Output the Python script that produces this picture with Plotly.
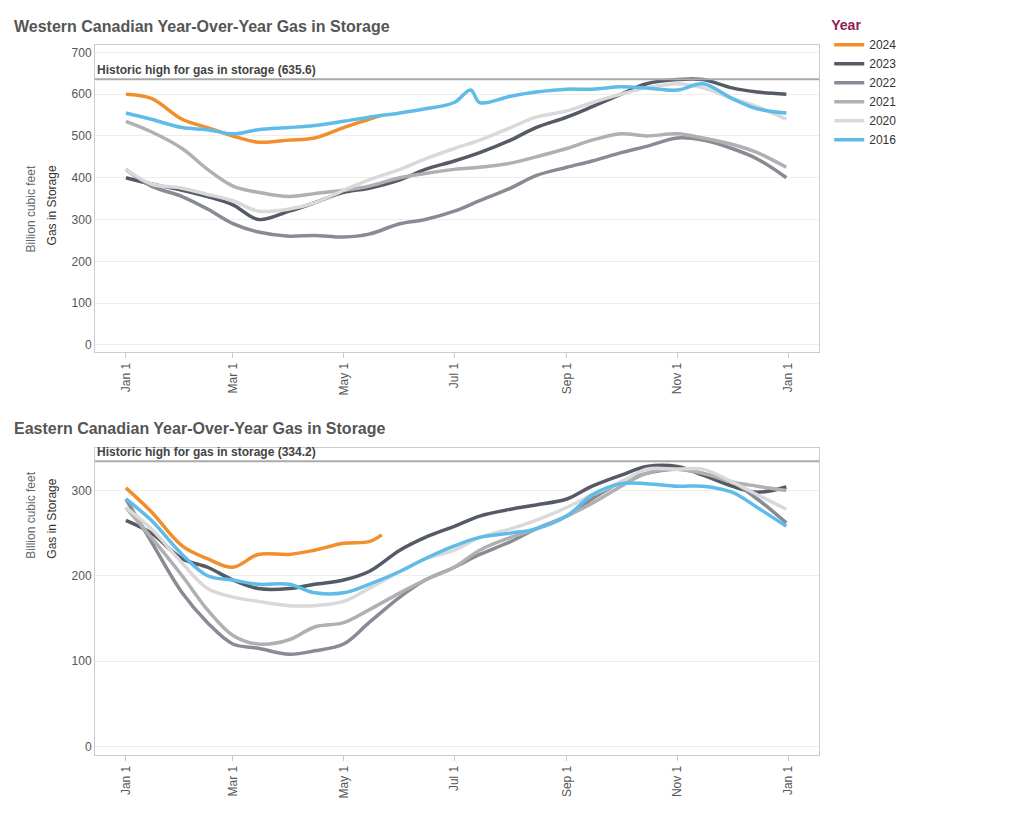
import plotly.graph_objects as go

dates_full = ["01-01","01-15","02-01","02-15","03-01","03-15","04-01","04-15","05-01","05-15","06-01","06-15",
              "07-01","07-15","08-01","08-15","09-01","09-15","10-01","10-15","11-01","11-15","12-01","12-15","12-31"]
years = ["2024","2023","2022","2021","2020","2016"]
colors = {"2024":"#f28e2b","2023":"#555b66","2022":"#878c94","2021":"#b0b0b0","2020":"#d9d9d9","2016":"#5fbce8"}

west_2024_dates = ["01-01","01-15","02-01","02-15","03-01","03-15","04-01","04-15","05-01","05-15","05-22"]
west = {
 "2024":[600,590,540,520,500,485,490,495,520,540,550],
 "2023":[400,385,370,355,335,300,320,340,365,375,395,420,440,460,490,520,545,570,600,625,635,635,615,605,600],
 "2022":[420,380,355,325,290,270,260,262,258,265,290,300,320,345,375,405,425,440,460,475,495,490,470,445,400],
 "2021":[535,510,470,420,380,365,355,362,370,380,400,410,420,425,435,450,470,490,505,500,505,495,480,460,425],
 "2020":[420,385,375,360,345,320,325,340,370,395,420,445,470,490,520,545,560,580,600,615,625,615,590,570,540],
 "2016":[555,540,520,515,505,515,520,525,535,545,555,565,580,580,595,605,612,612,618,615,610,625,590,565,555],
}
west_2016_dates = dates_full[:13] + ["07-10"] + dates_full[13:]
west["2016"] = west["2016"][:13] + [610] + west["2016"][13:]

east_2024_dates = ["01-01","01-15","02-01","02-15","03-01","03-15","04-01","04-15","05-01","05-15","05-22"]
east = {
 "2024":[303,275,235,220,210,225,225,230,238,240,248],
 "2023":[265,250,220,210,195,185,185,190,195,205,230,245,258,270,278,283,290,305,318,328,328,318,305,298,304],
 "2022":[290,240,180,145,120,115,108,112,120,145,175,195,210,225,240,255,270,290,310,320,325,320,310,290,262],
 "2021":[280,245,200,160,130,120,125,140,145,160,180,195,210,230,245,255,270,285,305,320,325,320,310,305,300],
 "2020":[280,255,215,185,175,170,165,165,170,185,205,220,230,245,255,265,280,295,310,325,325,325,310,295,278],
 "2016":[290,265,225,200,195,190,190,180,180,190,205,220,235,245,250,255,270,295,308,308,305,305,298,280,258],
}
west_high, east_high = 635.6, 334.2

def xd(ds): return ["2001-"+d for d in ds]

fig = go.Figure()
for i,(data,ax) in enumerate([(west,""),(east,"2")]):
    for y in years:
        if y=="2024":
            ds = west_2024_dates if i==0 else east_2024_dates
        elif y=="2016" and i==0:
            ds = west_2016_dates
        else:
            ds = dates_full
        fig.add_trace(go.Scatter(x=xd(ds), y=data[y], mode="lines", name=y, legendgroup=y,
            showlegend=(i==0), line=dict(color=colors[y], width=3.5, shape="spline"),
            xaxis="x"+ax, yaxis="y"+ax))

xcommon = dict(range=["2000-12-15","2002-01-18"], dtick="M2", tick0="2001-01-01", tickformat="%b %-d",
               tickangle=-90, showgrid=False, ticks="outside", ticklen=5, tickcolor="#ccc", automargin=False,
               showline=True, linecolor="#ccc", mirror=True, tickfont=dict(size=12,color="#555"))
ycommon = dict(showgrid=True, gridcolor="#eee", zeroline=False, showline=True, linecolor="#ccc", automargin=False,
               mirror=True, tickfont=dict(size=12,color="#555"))
fig.update_layout(
    width=1024, height=819, margin=dict(l=0,r=0,t=0,b=0,autoexpand=False), plot_bgcolor="white", paper_bgcolor="white",
    font=dict(family="Arial, Liberation Sans", color="#555"),
    xaxis=dict(domain=[0.085,0.792], anchor="y", **xcommon),
    yaxis=dict(domain=[0.580,0.955], range=[-17,718], dtick=100, anchor="x", **ycommon),
    xaxis2=dict(domain=[0.085,0.792], anchor="y2", **xcommon),
    yaxis2=dict(domain=[0.088,0.463], range=[-10,350], dtick=100, anchor="x2", **ycommon),
    legend=dict(x=0.802, y=0.995, xanchor="left", yanchor="top", title=dict(text="<b>Year</b>", font=dict(color="#8b2252", size=14)),
                font=dict(size=12,color="#333"), itemwidth=30, tracegroupgap=0),
)
for ax,val,title,ty in [("",west_high,"Western Canadian Year-Over-Year Gas in Storage",0.977),
                        ("2",east_high,"Eastern Canadian Year-Over-Year Gas in Storage",0.487)]:
    fig.add_shape(type="line", xref="x"+ax+" domain", yref="y"+ax, x0=0, x1=1, y0=val, y1=val,
                  line=dict(color="#aaa", width=2))
    fig.add_annotation(xref="x"+ax+" domain", yref="y"+ax, x=0, y=val, text="<b>Historic high for gas in storage (%s)</b>" % val,
                       showarrow=False, xanchor="left", yanchor="bottom", font=dict(size=12,color="#444"))
    fig.add_annotation(xref="paper", yref="paper", x=0.004, y=ty, text="<b>"+title+"</b>", showarrow=False,
                       xanchor="left", yanchor="middle", font=dict(size=16,color="#555"))
for yc in [0.81, 0.325]:
    fig.add_annotation(xref="paper", yref="paper", x=0.014, y=yc, text="Billion cubic feet", textangle=-90,
                       showarrow=False, font=dict(size=12,color="#666"))
    fig.add_annotation(xref="paper", yref="paper", x=0.034, y=yc, text="Gas in Storage", textangle=-90,
                       showarrow=False, font=dict(size=12,color="#333"))
fig.write_html("out.html")
